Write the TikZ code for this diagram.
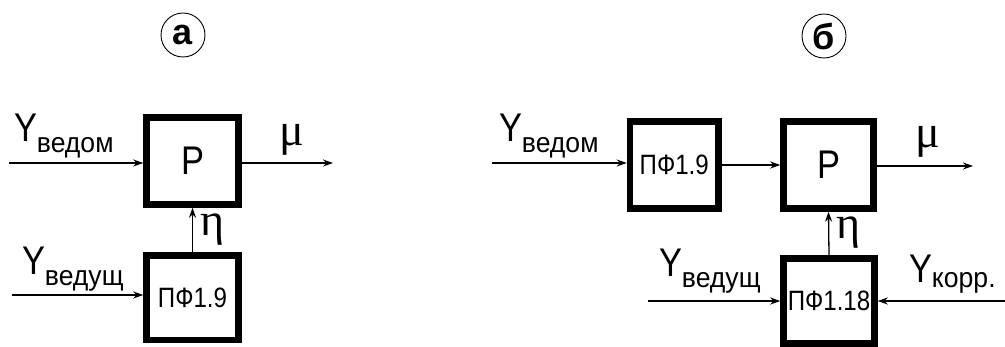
\documentclass[tikz,border=0pt]{standalone}
\usepackage{fontspec}
\setmainfont{Liberation Sans}
\newfontfamily\serifgr{Liberation Serif}
\newfontfamily\narrowsans[FakeStretch=0.86]{Liberation Sans}
\newfontfamily\subsans[FakeStretch=0.95]{Liberation Sans}
\usetikzlibrary{arrows.meta}
\newcommand\fYY{\narrowsans\fontsize{40}{42}\selectfont}
\newcommand\fSub{\subsans\fontsize{28}{30}\selectfont}
\newcommand\fBox{\narrowsans\fontsize{28}{30}\selectfont}
\newcommand\fBigP{\narrowsans\fontsize{40}{42}\selectfont}
\newcommand\fGr{\serifgr\fontsize{46}{48}\selectfont}
\newcommand\fCirc{\bfseries\fontsize{36}{38}\selectfont}
\newcommand\lblY[1]{{\fYY Y}\raisebox{-11pt}{\fSub #1}}
\tikzset{
  blk/.style={draw, line width=6.5pt, inner sep=0pt, align=center},
  arr/.style={line width=1.3pt, -{Stealth[length=10pt,width=7pt]}},
  lbl/.style={anchor=base west, inner sep=0pt, outer sep=0pt},
  circlbl/.style={draw, circle, line width=0.9pt, minimum size=44pt, inner sep=0pt}
}
\begin{document}
\begin{tikzpicture}[x=1pt,y=-1pt]
\useasboundingbox (0,0) rectangle (1005,347);
% ---------- (a) ----------
\node[circlbl] (ca) at (183,35) {\fCirc а};
\node[blk, minimum width=92pt, minimum height=87pt] (P1) at (192.5,161) {\fBigP Р};
\node[blk, minimum width=92pt, minimum height=84.5pt] (F1) at (192.5,297.75) {\fBox ПФ1.9};
\coordinate (a1) at (9,163);
\coordinate (a2) at (333,163);
\coordinate (a3) at (12,295);
\draw[arr] (a1) -- (a1 -| P1.west);
\draw[arr] (a2 -| P1.east) -- (a2);
\draw[arr] (F1.north) -- (P1.south);
\draw[arr] (a3) -- (a3 -| F1.west);
\node[lbl] (ya1) at (14,142) {\lblY{ведом}};
\node[lbl] (ya2) at (22,275) {\lblY{ведущ}};
\node[lbl] (mua) at (279,146) {\fGr μ};
\node[lbl] (eta) at (200,236) {\fGr η};
% ---------- (b) ----------
\node[circlbl] (cb) at (824,36) {\fCirc б};
\node[blk, minimum width=88.5pt, minimum height=87pt] (F2) at (674.25,165) {\fBox ПФ1.9};
\node[blk, minimum width=90pt, minimum height=87pt] (P2) at (828.5,165) {\fBigP Р};
\node[blk, minimum width=91pt, minimum height=85pt] (F3) at (829,301) {\fBox ПФ1.18};
\coordinate (b1) at (492,163);
\coordinate (b2) at (973,166);
\coordinate (b3) at (648,301);
\coordinate (b4) at (1005,301);
\draw[arr] (b1) -- (b1 -| F2.west);
\draw[arr] (F2.east) -- (P2.west);
\draw[arr] (b2 -| P2.east) -- (b2);
\draw[arr] (F3.north) -- (P2.south);
\draw[arr] (b3) -- (b3 -| F3.west);
\draw[arr] (b4) -- (b4 -| F3.east);
\node[lbl] (yb1) at (499,142) {\lblY{ведом}};
\node[lbl] (yb2) at (659,277) {\lblY{ведущ}};
\node[lbl] (yb3) at (909,283) {{\fYY Y}\raisebox{-5pt}{\fSub корр.}};
\node[lbl] (mub) at (915,148) {\fGr μ};
\node[lbl] (etb) at (836,239) {\fGr η};
\end{tikzpicture}
\end{document}
